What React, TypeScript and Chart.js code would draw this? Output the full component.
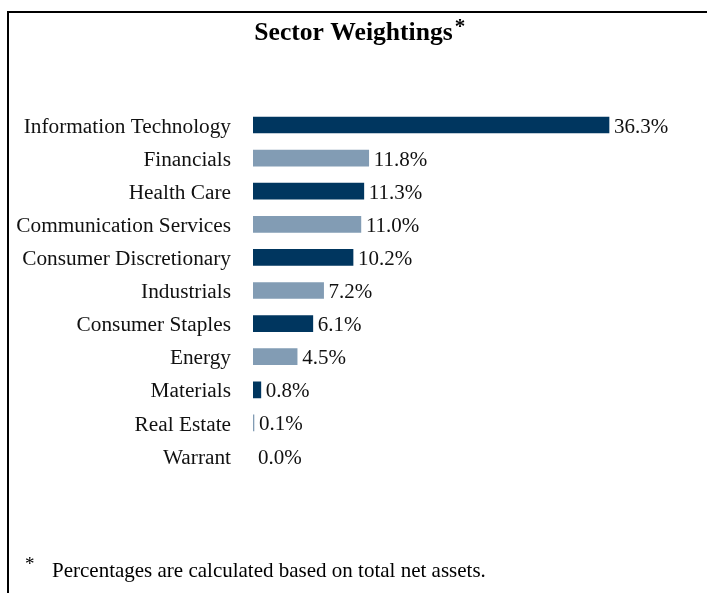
import React, { useEffect, useRef } from "react";
import { Chart, registerables } from "chart.js";

Chart.register(...registerables);

const categories = [
  "Information Technology",
  "Financials",
  "Health Care",
  "Communication Services",
  "Consumer Discretionary",
  "Industrials",
  "Consumer Staples",
  "Energy",
  "Materials",
  "Real Estate",
  "Warrant",
];
const values = [36.3, 11.8, 11.3, 11.0, 10.2, 7.2, 6.1, 4.5, 0.8, 0.1, 0.0];
const valueLabels = ["36.3%", "11.8%", "11.3%", "11.0%", "10.2%", "7.2%", "6.1%", "4.5%", "0.8%", "0.1%", "0.0%"];
const titleText = "Sector Weightings";
const footnoteText = "Percentages are calculated based on total net assets.";

const DARK = "#00365F";
const LIGHT = "#829CB4";
const FONT = '"Liberation Serif", "Times New Roman", serif';
const W = 707;
const H = 593;

const decorPlugin = {
  id: "decor",
  afterDraw(chart: any) {
    const ctx = chart.ctx;
    ctx.save();
    // frame (top + left)
    ctx.strokeStyle = "#000";
    ctx.lineWidth = 2;
    ctx.beginPath();
    ctx.moveTo(8, H);
    ctx.lineTo(8, 12);
    ctx.lineTo(W, 12);
    ctx.stroke();

    // title
    ctx.fillStyle = "#000";
    ctx.font = `bold 25.6px ${FONT}`;
    ctx.textAlign = "center";
    ctx.textBaseline = "alphabetic";
    ctx.fillText(titleText, W / 2, 40);
    const tw = ctx.measureText(titleText).width;
    ctx.font = `bold 21px ${FONT}`;
    ctx.textAlign = "left";
    ctx.fillText("*", W / 2 + tw / 2 + 2, 33);

    // footnote
    ctx.font = `19px ${FONT}`;
    ctx.fillText("*", 25, 570);
    ctx.font = `21px ${FONT}`;
    ctx.fillText(footnoteText, 52, 577);

    // value labels
    const meta = chart.getDatasetMeta(0);
    ctx.font = `21px ${FONT}`;
    ctx.textBaseline = "middle";
    ctx.fillStyle = "#111";
    meta.data.forEach((bar: any, i: number) => {
      ctx.fillText(valueLabels[i], bar.x + 5, bar.y + 2);
    });
    ctx.restore();
  },
};

export default function App() {
  const ref = useRef<HTMLCanvasElement | null>(null);
  useEffect(() => {
    if (!ref.current) return;
    const chart = new Chart(ref.current, {
      type: "bar",
      data: {
        labels: categories,
        datasets: [
          {
            data: values,
            backgroundColor: values.map((v, i) =>
              v === 0 ? "rgba(0,0,0,0)" : i % 2 === 0 ? DARK : LIGHT
            ),
            barThickness: 16,
            borderWidth: 0,
          },
        ],
      },
      options: {
        indexAxis: "y",
        responsive: false,
        animation: false,
        devicePixelRatio: 1,
        layout: { padding: { left: 0, right: 61.7, top: 108.45, bottom: 120.45 } },
        plugins: { legend: { display: false }, tooltip: { enabled: false }, title: { display: false } },
        scales: {
          x: { display: false, min: 0, max: 40 },
          y: {
            grid: { display: false, drawTicks: false },
            border: { display: false },
            ticks: {
              padding: 22,
              labelOffset: 2,
              color: "#111",
              font: { family: FONT, size: 21.3 },
            },
            afterFit: (axis: any) => {
              axis.width = 253;
            },
          },
        },
      },
      plugins: [decorPlugin],
    } as any);
    return () => chart.destroy();
  }, []);
  return (
    <div style={{ position: "absolute", left: 0, top: 0, width: W, height: H, background: "#fff" }}>
      <canvas ref={ref} width={W} height={H} style={{ width: W, height: H, display: "block" }} />
    </div>
  );
}
